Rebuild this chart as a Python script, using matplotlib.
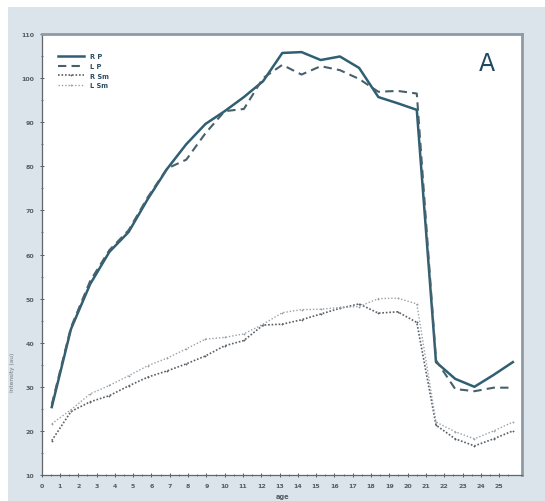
import matplotlib
matplotlib.use("Agg")
import matplotlib.pyplot as plt
from matplotlib.patches import Rectangle
from matplotlib.lines import Line2D

# ---- data ----
x_pos = [0.55, 1.60, 2.65, 3.70, 4.75, 5.80, 6.85, 7.90, 8.95, 10.00,
         11.05, 12.10, 13.15, 14.20, 15.25, 16.30, 17.35, 18.40, 19.45, 20.50,
         21.55, 22.60, 23.65, 24.70, 25.75]
r_p = [25.4, 43.1, 53.3, 60.6, 65.1, 72.6, 79.4, 85.0, 89.6, 92.5,
       95.7, 99.3, 105.7, 105.9, 104.1, 104.9, 102.3, 95.7, 94.3, 92.8,
       35.6, 31.8, 30.0, 32.7, 35.6]
l_p = [26.0, 43.5, 54.0, 61.0, 65.5, 73.0, 79.5, 81.5, 87.5, 92.5,
       93.0, 100.0, 103.0, 100.8, 102.7, 101.8, 99.8, 96.9, 97.1, 96.5,
       36.0, 29.5, 29.0, 29.8, 29.8]
r_sm = [17.8, 24.4, 26.6, 28.0, 30.2, 32.2, 33.6, 35.2, 37.0, 39.3,
        40.5, 44.0, 44.2, 45.2, 46.5, 47.8, 48.8, 46.7, 47.0, 44.6,
        21.3, 18.2, 16.6, 18.2, 20.0]
l_sm = [21.6, 24.8, 28.4, 30.3, 32.5, 34.8, 36.5, 38.6, 40.8, 41.2,
        42.0, 44.2, 46.8, 47.5, 47.6, 48.0, 48.2, 50.0, 50.1, 48.8,
        22.0, 19.8, 18.2, 20.0, 22.0]
series_names = ["R P", "L P", "R Sm", "L Sm"]
x_ticks = list(range(0, 26))
y_ticks = list(range(10, 111, 10))
panel_label = "A"
x_label = "age"
y_label = "Intensity (au)"

W, H = 545, 502
fig = plt.figure(figsize=(W / 100, H / 100), dpi=100)
fig.patch.set_facecolor("white")
bg = Rectangle((8 / W, 0), 1 - 8 / W, (H - 8) / H, transform=fig.transFigure,
               facecolor="#dbe4eb", edgecolor="none", zorder=-10)
fig.add_artist(bg)

ax = fig.add_axes([41.7 / W, (H - 476) / H, (522 - 41.7) / W, (476 - 35) / H])
ax.set_zorder(5)
ax.set_facecolor("white")

c_rp = "#2e5f73"
c_lp = "#46606c"
c_rsm = "#5a6066"
c_lsm = "#9aa2a8"

st_rp = dict(color=c_rp, lw=1.8, ls="-")
st_lp = dict(color=c_lp, lw=1.5, ls=(0, (4, 2.5)))
st_rsm = dict(color=c_rsm, lw=1.2, ls=(0, (1, 1.1)), marker="+", ms=2.0, mew=0.6)
st_lsm = dict(color=c_lsm, lw=1.0, ls=(0, (1, 1.4)), marker="+", ms=2.0, mew=0.6)

ax.plot(x_pos, r_p, **st_rp)
ax.plot(x_pos, l_p, **st_lp)
ax.plot(x_pos, r_sm, **st_rsm)
ax.plot(x_pos, l_sm, **st_lsm)

ax.set_xlim(0, 26.25)
ax.set_ylim(10, 110)
ax.set_xticks(x_ticks)
ax.set_xticks([t + 0.5 for t in x_ticks], minor=True)
ax.set_yticks(y_ticks)
ax.set_yticks([t + 5 for t in y_ticks[:-1]], minor=True)
ax.tick_params(axis="both", which="major", labelsize=4.5, colors="#555d63", length=3, width=0.7,
               direction="inout", pad=4)
ax.tick_params(axis="both", which="minor", length=2, width=0.6, direction="inout", colors="#555d63")
for lab in ax.get_xticklabels() + ax.get_yticklabels():
    lab.set_fontweight("bold")

for s in ["left", "bottom"]:
    ax.spines[s].set_color("#5f676d")
    ax.spines[s].set_linewidth(0.9)
for s in ["top", "right"]:
    ax.spines[s].set_color("#8e9ba5")
    ax.spines[s].set_linewidth(2.0)

handles = [
    Line2D([], [], **st_rp),
    Line2D([], [], **st_lp),
    Line2D([], [], markevery=[1], **st_rsm),
    Line2D([], [], markevery=[1], **st_lsm),
]
leg = ax.legend(handles, series_names, loc="upper left", bbox_to_anchor=(0.028, 0.962),
                frameon=False, fontsize=4.8, handlelength=3.9, handletextpad=1.0,
                labelspacing=0.55, borderaxespad=0.0)
for t in leg.get_texts():
    t.set_color("#2d4f63")
    t.set_fontweight("bold")

ax.text(0.927, 0.935, panel_label, transform=ax.transAxes, ha="center", va="center",
        fontsize=17, color="#1f4a60")

fig.text(283 / W, 5 / H, x_label, ha="center", va="center", fontsize=4.8,
         color="#555d63", fontweight="bold")
fig.text(13 / W, (H - 372) / H, y_label, ha="center", va="center", rotation=90,
         fontsize=4.2, color="#6f787e")

fig.savefig("out.png", dpi=100)
